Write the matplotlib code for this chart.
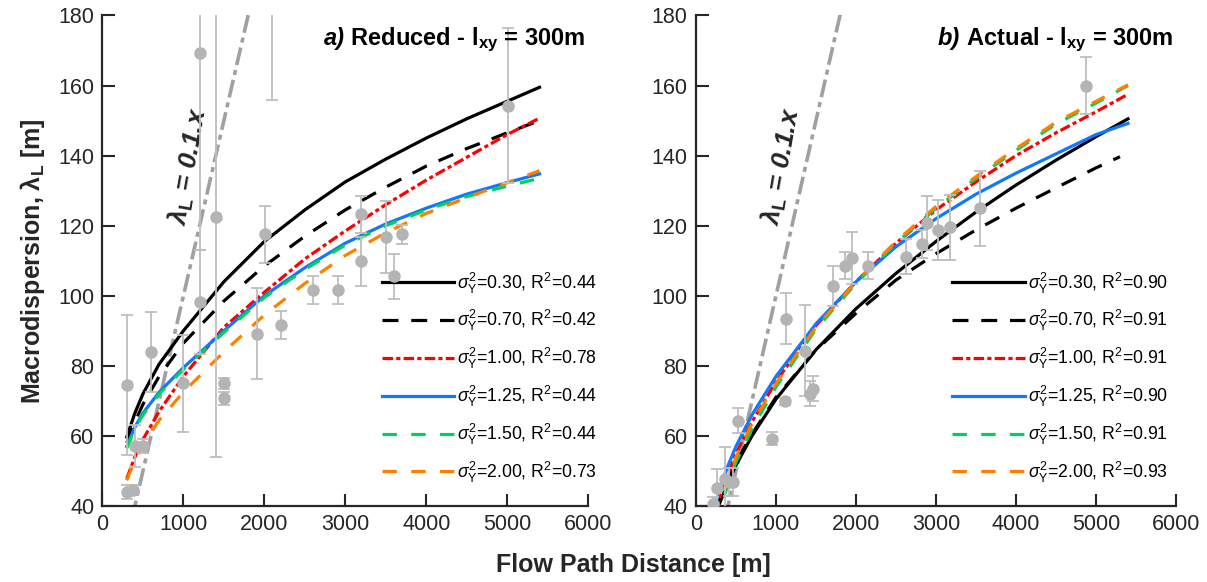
import numpy as np
import matplotlib
matplotlib.use("Agg")
import matplotlib.pyplot as plt
from matplotlib.offsetbox import TextArea, HPacker, AnchoredOffsetbox

plt.rcParams['font.family'] = ['Liberation Sans', 'DejaVu Sans']
plt.rcParams['mathtext.fontset'] = 'custom'
plt.rcParams['mathtext.rm'] = 'Liberation Sans'
plt.rcParams['mathtext.it'] = 'Liberation Sans:italic'
plt.rcParams['mathtext.bf'] = 'Liberation Sans:bold'

# ---- data ----
sigma_labels = ['0.30', '0.70', '1.00', '1.25', '1.50', '2.00']
r2_reduced = ['0.44', '0.42', '0.78', '0.44', '0.44', '0.73']
r2_actual = ['0.90', '0.91', '0.91', '0.90', '0.91', '0.93']

# fitted curves, panel a (reduced)
xa = [300, 400, 500, 700, 1000, 1500, 2000, 2500, 3000, 3500, 4000, 4500, 5000, 5400]
a_030 = [59.7, 66.5, 72, 80.5, 90, 104, 115.5, 124.5, 132.5, 139, 145, 150.5, 155.5, 159.5]
a_070 = [58, 64, 69, 77, 86.5, 98.5, 108.5, 117, 124.5, 131, 137, 142, 146.5, 150]
a_100 = [47.8, 54, 59, 67, 77, 91, 101, 110.5, 118.5, 126, 133, 139.5, 146, 150.7]
a_125 = [57, 62.5, 66.5, 72.5, 79.5, 90, 100, 108, 115, 120.5, 125, 129, 132.3, 134.8]
a_150 = [56.5, 62, 66, 72, 79, 89.5, 99.5, 107.5, 114.5, 120, 124.5, 128.3, 131.3, 133.5]
a_200 = [47.3, 53, 57.5, 64.5, 72.5, 84, 94.5, 103.5, 111.5, 118, 123.5, 128, 132.3, 135.7]

# fitted curves, panel b (actual)
xb = [250, 300, 400, 500, 700, 1000, 1500, 2000, 2500, 3000, 3500, 4000, 4500, 5000, 5400]
b_030 = [37.7, 41, 46.7, 51.6, 60, 70.5, 84.6, 96.3, 106.4, 115.5, 123.9, 131.6, 138.7, 145.4, 150.5]
b_070 = [38.5, 42, 47.5, 52.5, 60.5, 71, 84.5, 95, 104.5, 112, 118.8, 125, 130.8, 136.5, 139.7]
b_100 = [38.5, 42.5, 49, 55, 64, 75.5, 91.5, 104, 115, 124.5, 132.5, 140, 146.5, 152.5, 157.5]
b_125 = [41, 45, 51.5, 57, 66, 77, 92, 104, 114, 122, 129, 135, 140.5, 146, 149.2]
b_150 = [35.5, 39.5, 46, 52.5, 62, 74, 90.5, 103.5, 115, 125, 133.5, 141.5, 149, 155, 160]
b_200 = [36.5, 40.5, 47.5, 54, 63.5, 75, 91, 104, 115.5, 125.5, 134, 142, 149.5, 155.5, 160.2]
b_end = 5300  # dashed black ends a bit earlier

# observed points with error bars
pa_x = [300, 300, 380, 400, 500, 600, 1000, 1205, 1205, 1400, 1505, 1505, 1905, 2005,
        2100, 2205, 2605, 2905, 3200, 3200, 3500, 3605, 3705, 5005]
pa_y = [74.5, 44, 44.5, 57, 57, 84, 75, 169.2, 98.3, 122.4, 75, 70.7, 89.2, 117.5,
        200, 91.6, 101.6, 101.6, 123.3, 109.9, 116.7, 105.6, 117.5, 154.3]
pa_e = [20, 2, 1.5, 6, 2, 11.5, 13.8, 56, 14.9, 68.4, 1.5, 1.8, 13, 8.2,
        44, 4, 4, 4, 5.3, 7, 10.3, 6.4, 2.6, 22]

pb_x = [4875, 3550, 3175, 3020, 2890, 2830, 2630, 2155, 1955, 1865, 1710, 1125, 1365,
        1460, 1420, 1110, 945, 520, 360, 415, 460, 258, 208]
pb_y = [160, 125, 119.5, 118.8, 120.7, 114.8, 111.1, 108.6, 110.9, 108.6, 102.9, 93.5, 84.3,
        73.5, 72.1, 69.9, 59.2, 64.3, 47.8, 46.9, 46.9, 45, 40.5]
pb_e = [8.2, 10.7, 9.4, 8.6, 7.7, 4, 5, 3.8, 7.4, 3.8, 5.7, 7.4, 13,
        3.5, 3.5, 1, 1.8, 3.6, 9, 4, 4, 5.7, 2]

ref_x = [0, 2000]
ref_y = [0, 200]

colors = ['#000000', '#000000', '#FF0000', '#1177FF', '#00D060', '#FF8000']
dashes = [None, (5, 4), (3.3, 1, 1.3, 1), None, (4.5, 4.5), (4.5, 4.5)]
axcol = '#262626'

fig = plt.figure(figsize=(12.07, 5.82), dpi=100)
ax1 = fig.add_axes([0.0849, 0.1306, 0.4023, 0.8428])
ax2 = fig.add_axes([0.5766, 0.1306, 0.3977, 0.8428])


def panel(ax, x, curves, px, py, pe, r2, letter, name, xends, leg_x):
    ax.plot(ref_x, ref_y, color='#A0A0A0', lw=2.6, dashes=(5, 1.4, 1.4, 1.4))
    handles = []
    for i, c in enumerate(curves):
        xx = x[:len(c)]
        if xends[i] is not None:
            xx = list(x[:-1]) + [xends[i]]
        ln, = ax.plot(xx, c, color=colors[i], lw=2.3,
                      label=r'$\sigma^2_{\rm Y}$=' + sigma_labels[i] + ', R$^2$=' + r2[i])
        if dashes[i] is not None:
            ln.set_dashes(dashes[i])
        handles.append(ln)
    ax.errorbar(px, py, yerr=pe, fmt='o', ms=8, color='#B4B4B4', ecolor='#BEBEBE',
                elinewidth=1.3, capsize=4.5, capthick=1.3, zorder=5)
    ax.set_xlim(0, 6000)
    ax.set_ylim(40, 180)
    ax.set_xticks(np.arange(0, 6001, 1000))
    ax.set_yticks(np.arange(40, 181, 20))
    for s in ['top', 'right']:
        ax.spines[s].set_visible(False)
    for s in ['left', 'bottom']:
        ax.spines[s].set_color(axcol)
        ax.spines[s].set_linewidth(1.6)
    ax.tick_params(direction='in', length=9, width=1.5, color=axcol, labelcolor=axcol,
                   labelsize=15.5, pad=6)
    ax.legend(handles=handles, loc='lower left', bbox_to_anchor=(leg_x, 0.022),
              frameon=False, fontsize=12.7, handlelength=4.1, handletextpad=0.2,
              labelspacing=0.72, borderaxespad=0.2)
    ax.text(1065, 137, r'λ$_\mathbf{L}$ = 0.1.x', rotation=80, ha='center', va='center',
            fontsize=19, fontweight='bold', style='italic', color=axcol)
    t1 = TextArea(letter, textprops=dict(fontsize=17, fontweight='bold', style='italic', color='black'))
    t2 = TextArea(' ' + name + r' - l$_{\mathbf{xy}}$ = 300m',
                  textprops=dict(fontsize=17, fontweight='bold', color='black'))
    box = HPacker(children=[t1, t2], align='baseline', pad=0, sep=0)
    anc = AnchoredOffsetbox(loc='upper right', child=box, frameon=False,
                            bbox_to_anchor=(0.995, 0.98), bbox_transform=ax.transAxes,
                            borderpad=0, pad=0)
    ax.add_artist(anc)


panel(ax1, xa, [a_030, a_070, a_100, a_125, a_150, a_200], pa_x, pa_y, pa_e,
      r2_reduced, 'a)', 'Reduced', [None] * 6, 0.553)
panel(ax2, xb, [b_030, b_070, b_100, b_125, b_150, b_200], pb_x, pb_y, pb_e,
      r2_actual, 'b)', 'Actual', [None, b_end, None, None, None, None], 0.512)

ax1.set_ylabel(r'Macrodispersion, λ$_\mathbf{L}$ [m]', fontsize=18, fontweight='bold', color=axcol)
ax1.yaxis.set_label_coords(-0.115, 0.5)
fig.text(633 / 1207, 1 - 565 / 582, 'Flow Path Distance [m]', ha='center', va='center',
         fontsize=18, fontweight='bold', color=axcol)

fig.savefig('out.png', dpi=100)
